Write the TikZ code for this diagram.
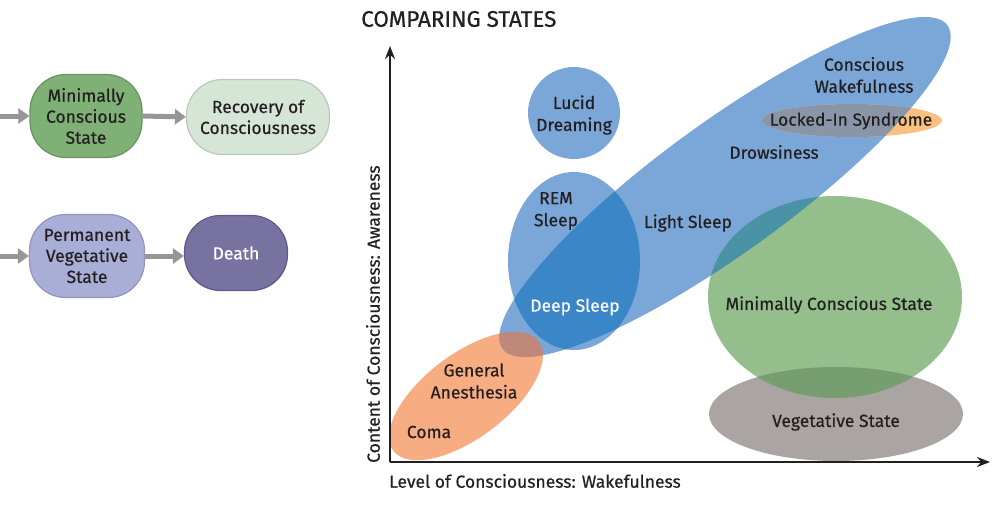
\documentclass[tikz,border=0pt]{standalone}
\usepackage{fontspec}
\setmainfont{Fira Sans}[FakeBold=0.5]
\usetikzlibrary{arrows.meta}
\definecolor{ink}{RGB}{35,31,32}
\definecolor{bblue}{RGB}{122,167,216}
\definecolor{dblue}{RGB}{58,134,198}
\definecolor{teal}{RGB}{74,146,166}
\definecolor{anorange}{RGB}{247,172,130}
\definecolor{brownov}{RGB}{192,136,122}
\definecolor{lockorange}{RGB}{250,192,128}
\definecolor{lockgray}{RGB}{138,150,168}
\definecolor{mgreen}{RGB}{148,190,140}
\definecolor{vgray}{RGB}{170,165,162}
\definecolor{gvov}{RGB}{118,158,112}
\definecolor{bxgreen}{RGB}{127,176,118}
\definecolor{bxgreenb}{RGB}{100,150,92}
\definecolor{bxlight}{RGB}{214,230,214}
\definecolor{bxlightb}{RGB}{185,200,186}
\definecolor{bxlav}{RGB}{168,174,214}
\definecolor{bxlavb}{RGB}{145,150,192}
\definecolor{bxpurp}{RGB}{120,114,160}
\definecolor{bxpurpb}{RGB}{95,90,135}
\definecolor{arrgray}{RGB}{150,150,150}
\begin{document}
\begin{tikzpicture}[x=1pt,y=-1pt,
  lbl/.style={text=ink,font=\fontsize{17.5}{22}\selectfont,align=center,inner sep=0pt},
  flowbox/.style={rounded corners=36pt,line width=1.2pt,align=center,text=ink,
     font=\fontsize{17.5}{21}\selectfont,inner sep=0pt},
  flowarrow/.style={arrgray,line width=5pt,-{Triangle[length=11pt,width=15pt]}},
  axis/.style={ink,line width=1.6pt,-{Stealth[length=13pt,width=10pt]}}]
\useasboundingbox (0,0) rectangle (998,519);
\def\bigE{[shift={(725,187)},rotate=36] (0,0) ellipse [x radius=275,y radius=65]}
\def\remE{(574,261) ellipse [x radius=66,y radius=89]}
\def\lucE{(574,113) circle [radius=46]}
\def\anE{[shift={(466,396)},rotate=37] (0,0) ellipse [x radius=91,y radius=42]}
\def\mcsE{(835,297) ellipse [x radius=127,y radius=101]}
\def\vegE{(836,414) ellipse [x radius=127,y radius=47]}
\def\lockE{(852,120.5) ellipse [x radius=90,y radius=16.5]}
% ellipses
\fill[anorange] \anE;
\fill[bblue] \bigE;
\fill[bblue] \remE;
\fill[bblue] \lucE;
\begin{scope}\clip \bigE; \fill[dblue] \remE; \end{scope}
\begin{scope}\clip \anE; \fill[brownov] \bigE; \fill[brownov] \remE; \end{scope}
\fill[mgreen] \mcsE;
\fill[vgray] \vegE;
\begin{scope}\clip \vegE; \fill[gvov] \mcsE; \end{scope}
\begin{scope}\clip \bigE; \fill[teal] \mcsE; \end{scope}
\fill[lockorange] \lockE;
\begin{scope}\clip \lockE; \fill[lockgray] \bigE; \end{scope}
% axes
\coordinate (O) at (390,462);
\coordinate (ytop) at (390,46);
\coordinate (xend) at (990,462);
\draw[axis] (O) -- (ytop);
\draw[axis] (O) -- (xend);
\node[text=ink,font=\fontsize{22.5}{26}\selectfont,anchor=west,inner sep=0pt] (title) at (361,19) {COMPARING STATES};
\node[lbl,anchor=west] (xlab) at (389,481) {Level of Consciousness: Wakefulness};
\node[lbl,rotate=90,anchor=west] (ylab) at (373,463) {Content of Consciousness: Awareness};
% labels
\node[lbl] (luc) at (574,115) {Lucid\\Dreaming};
\node[lbl] (rem) at (556,211) {REM\\Sleep};
\node[lbl,text=white] (deep) at (575,307) {Deep Sleep};
\node[lbl] (light) at (688,223) {Light Sleep};
\node[lbl] (drow) at (774,152) {Drowsiness};
\node[lbl] (cw) at (864,75) {Conscious\\Wakefulness};
\node[lbl] (lock) at (851,121) {Locked-In Syndrome};
\node[lbl] (mcs) at (829,305) {Minimally Conscious State};
\node[lbl] (veg) at (836,422) {Vegetative State};
\node[lbl] (gen) at (474,381) {General\\Anesthesia};
\node[lbl] (coma) at (429,432) {Coma};
% flow boxes
\node[flowbox,fill=bxgreen,draw=bxgreenb,minimum width=112pt,minimum height=83pt] (b1) at (86,116) {Minimally\\Conscious\\State};
\node[flowbox,fill=bxlight,draw=bxlightb,minimum width=143pt,minimum height=75pt] (b2) at (258,117) {Recovery of\\Consciousness};
\node[flowbox,fill=bxlav,draw=bxlavb,minimum width=115pt,minimum height=83pt] (b3) at (87,256) {Permanent\\Vegetative\\State};
\node[flowbox,fill=bxpurp,draw=bxpurpb,minimum width=103pt,minimum height=75pt,text=white] (b4) at (236,253) {Death};
\coordinate (in1) at (0,116);
\coordinate (in3) at (0,256);
\draw[flowarrow] (in1) -- (b1.west);
\draw[flowarrow] (in3) -- (b3.west);
\draw[flowarrow] (b1.east) -- (b2.west);
\draw[flowarrow] (b3.east) -- (b3.east -| b4.west);
\end{tikzpicture}
\end{document}
